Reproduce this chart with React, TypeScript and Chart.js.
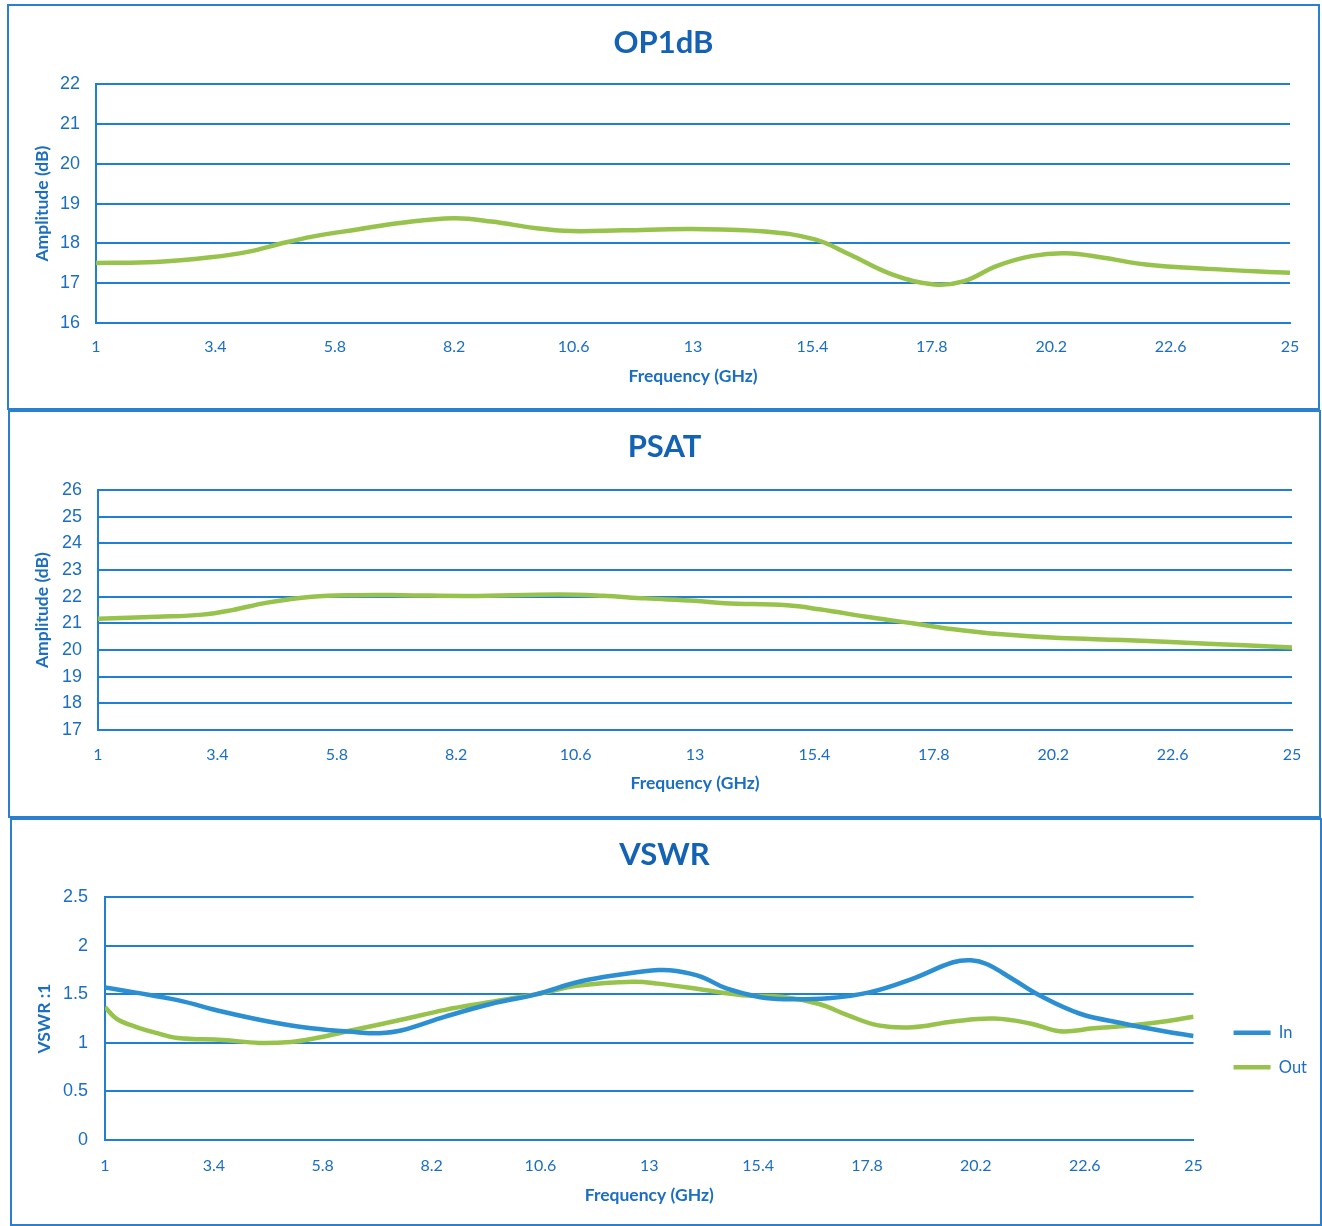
import React, { useEffect, useRef } from "react";
import { Chart, registerables } from "chart.js";

Chart.register(...registerables);

// ---------- data ----------
const op1Freq = [1, 2.2, 3.3, 4.1, 4.7, 5.35, 6.25, 7.15, 8.2, 8.95, 9.85, 10.55, 11.6, 13, 14.45, 15.45, 16.15, 17, 17.85, 18.45, 19.1, 19.8, 20.5, 21.25, 22.1, 23.35, 25];
const op1Values = [17.51, 17.53, 17.65, 17.8, 17.99, 18.17, 18.35, 18.52, 18.63, 18.55, 18.38, 18.31, 18.33, 18.36, 18.3, 18.1, 17.72, 17.22, 16.97, 17.05, 17.43, 17.68, 17.75, 17.64, 17.47, 17.36, 17.26];

const psatFreq = [1, 2.2, 3.1, 3.7, 4.4, 5.3, 6.2, 7.1, 8.45, 10.25, 11.15, 12.0, 13.0, 13.6, 14.85, 15.5, 16.55, 17.4, 18.2, 19.1, 20.35, 21.6, 23.3, 25];
const psatValues = [21.18, 21.25, 21.33, 21.5, 21.78, 22.0, 22.06, 22.06, 22.03, 22.09, 22.04, 21.94, 21.85, 21.76, 21.68, 21.53, 21.22, 21.0, 20.78, 20.6, 20.45, 20.38, 20.24, 20.1];

const vswrInFreq = [1, 1.65, 2.6, 3.6, 4.6, 5.55, 6.55, 7.05, 7.55, 8.5, 9.5, 10.5, 11.45, 12.45, 13.2, 13.6, 14.15, 14.7, 15.45, 16.0, 16.95, 17.85, 18.8, 19.7, 20.1, 20.45, 21.0, 21.6, 22.5, 23.45, 24.35, 25];
const vswrInValues = [1.57, 1.52, 1.44, 1.32, 1.22, 1.15, 1.11, 1.1, 1.13, 1.27, 1.4, 1.5, 1.63, 1.71, 1.75, 1.74, 1.68, 1.56, 1.47, 1.45, 1.46, 1.52, 1.66, 1.83, 1.85, 1.81, 1.66, 1.49, 1.3, 1.2, 1.12, 1.07];

const vswrOutFreq = [1, 1.25, 1.65, 2.15, 2.6, 3.6, 4.4, 5.1, 5.55, 6.55, 7.55, 8.5, 9.5, 10.5, 11.45, 12.65, 13.2, 14.15, 15.05, 16.0, 16.75, 17.4, 18.05, 18.8, 19.7, 20.6, 21.4, 22.05, 22.8, 23.6, 24.35, 25];
const vswrOutValues = [1.37, 1.25, 1.17, 1.1, 1.05, 1.03, 1.0, 1.01, 1.04, 1.14, 1.24, 1.34, 1.42, 1.5, 1.59, 1.63, 1.61, 1.55, 1.49, 1.47, 1.4, 1.28, 1.18, 1.16, 1.22, 1.25, 1.2, 1.12, 1.15, 1.18, 1.22, 1.27];

const freqMin = 1;
const freqMax = 25;
const freqStep = 2.4;

const chartTitles = ["OP1dB", "PSAT", "VSWR"];
const xTitle = "Frequency (GHz)";
const yTitles = ["Amplitude (dB)", "Amplitude (dB)", "VSWR :1"];
const seriesNames = ["In", "Out"];

// ---------- styles ----------
const GRID = "#1f7fd4";
const TEXT = "#1b6ec2";
const TITLE = "#1462b4";
const GREEN = "#97c24c";
const BLUE = "#2b8fd2";
const CAL = "Lato, 'Open Sans', sans-serif";
const ARIAL = "'Liberation Sans', Arial, sans-serif";

const pts = (xs: number[], ys: number[]) => xs.map((x, i) => ({ x, y: ys[i] }));

type Geo = {
  yWidth: number;
  xHeight: number;
  rightGap: number;
  padRight: number;
  titleTop: number;
  titleBottom: number;
  yTickPad: number;
  yTitlePad: number;
  xTickPad: number;
  xTitlePad: number;
};

function baseOptions(g: Geo, title: string, yTitle: string, yMin: number, yMax: number, yStep: number, extra: any = {}) {
  return {
    responsive: false,
    animation: false,
    events: [],
    layout: { padding: { left: 0, top: 0, bottom: 0, right: g.padRight } },
    plugins: {
      title: {
        display: true,
        text: title,
        color: TITLE,
        font: { family: CAL, size: 31, weight: "bold", lineHeight: 1.2 },
        padding: { top: g.titleTop, bottom: g.titleBottom },
      },
      legend: { display: false },
      tooltip: { enabled: false },
      ...(extra.plugins || {}),
    },
    scales: {
      x: {
        type: "linear",
        min: freqMin,
        max: freqMax,
        grid: { display: false, drawTicks: false },
        border: { display: true, color: GRID, width: 2 },
        ticks: {
          stepSize: freqStep,
          color: TEXT,
          padding: g.xTickPad,
          maxRotation: 0,
          autoSkip: false,
          font: { family: CAL, size: 16 },
        },
        title: {
          display: true,
          text: xTitle,
          color: TEXT,
          font: { family: CAL, size: 17.5, weight: "bold", lineHeight: 1.2 },
          padding: { top: 0, bottom: g.xTitlePad },
        },
        afterFit: (s: any) => {
          s.height = g.xHeight;
        },
      },
      y: {
        type: "linear",
        min: yMin,
        max: yMax,
        grid: { display: true, color: GRID, lineWidth: 2, drawTicks: false },
        border: { display: true, color: GRID, width: 2 },
        ticks: {
          stepSize: yStep,
          color: TEXT,
          padding: g.yTickPad,
          font: { family: ARIAL, size: 18 },
          callback: (v: any) => String(v),
        },
        title: {
          display: true,
          text: yTitle,
          color: TEXT,
          font: { family: CAL, size: 17.5, weight: "bold", lineHeight: 1.2 },
          padding: { top: g.yTitlePad, bottom: 0 },
        },
        afterFit: (s: any) => {
          s.width = g.yWidth;
        },
      },
      gap: {
        type: "linear",
        position: "right",
        display: true,
        grid: { display: false, drawTicks: false },
        border: { display: false },
        ticks: { display: false },
        afterFit: (s: any) => {
          s.width = g.rightGap;
        },
      },
    },
  };
}

function lineDs(label: string, data: any[], color: string) {
  return {
    label,
    data,
    borderColor: color,
    backgroundColor: color,
    borderWidth: 4.5,
    pointRadius: 0,
    fill: false,
    tension: 0.4,
  };
}

const configs: any[] = [
  {
    type: "line",
    data: { datasets: [lineDs("OP1dB", pts(op1Freq, op1Values), GREEN)] },
    options: baseOptions(
      { yWidth: 87, xHeight: 85, rightGap: 28, padRight: 0, titleTop: 18, titleBottom: 23, yTickPad: 16, yTitlePad: 23, xTickPad: 14, xTitlePad: 21 },
      chartTitles[0], yTitles[0], 16, 22, 1
    ),
  },
  {
    type: "line",
    data: { datasets: [lineDs("PSAT", pts(psatFreq, psatValues), GREEN)] },
    options: baseOptions(
      { yWidth: 88, xHeight: 86, rightGap: 27, padRight: 0, titleTop: 16, titleBottom: 25, yTickPad: 16, yTitlePad: 22, xTickPad: 15, xTitlePad: 22 },
      chartTitles[1], yTitles[1], 17, 26, 1
    ),
  },
  {
    type: "line",
    data: {
      datasets: [
        lineDs(seriesNames[0], pts(vswrInFreq, vswrInValues), BLUE),
        lineDs(seriesNames[1], pts(vswrOutFreq, vswrOutValues), GREEN),
      ],
    },
    options: baseOptions(
      { yWidth: 93, xHeight: 84, rightGap: 22, padRight: 3, titleTop: 16, titleBottom: 24, yTickPad: 17, yTitlePad: 22, xTickPad: 16, xTitlePad: 18 },
      chartTitles[2], yTitles[2], 0, 2.5, 0.5,
      {
        plugins: {
          legend: {
            display: true,
            position: "right",
            align: "center",
            title: { display: true, text: " ", font: { size: 12 }, padding: { top: 41.6, bottom: 0 } },
            labels: {
              boxWidth: 37,
              boxHeight: 0,
              padding: 18,
              color: TEXT,
              font: { family: CAL, size: 16.5 },
            },
          },
        },
      }
    ),
  },
];

const panels = [
  { left: 7, top: 4, width: 1313, height: 406 },
  { left: 8, top: 410, width: 1313, height: 408 },
  { left: 10, top: 818, width: 1312, height: 408 },
];

function Panel({ idx }: { idx: number }) {
  const ref = useRef<HTMLCanvasElement | null>(null);
  const p = panels[idx];
  const w = p.width - 4;
  const h = p.height - 4;
  useEffect(() => {
    if (!ref.current) return;
    const chart = new Chart(ref.current, configs[idx]);
    return () => chart.destroy();
  }, [idx]);
  return (
    <div
      style={{
        position: "absolute",
        left: p.left,
        top: p.top,
        width: p.width,
        height: p.height,
        border: "2px solid #2a80cf",
        boxSizing: "border-box",
        background: "#fff",
      }}
    >
      <canvas ref={ref} width={w} height={h} style={{ display: "block", width: w, height: h }} />
    </div>
  );
}

export default function App() {
  return (
    <div
      style={{
        position: "absolute",
        left: 0,
        top: 0,
        width: 1322,
        height: 1226,
        overflow: "hidden",
        background: "#fff",
      }}
    >
      <Panel idx={0} />
      <Panel idx={1} />
      <Panel idx={2} />
    </div>
  );
}
